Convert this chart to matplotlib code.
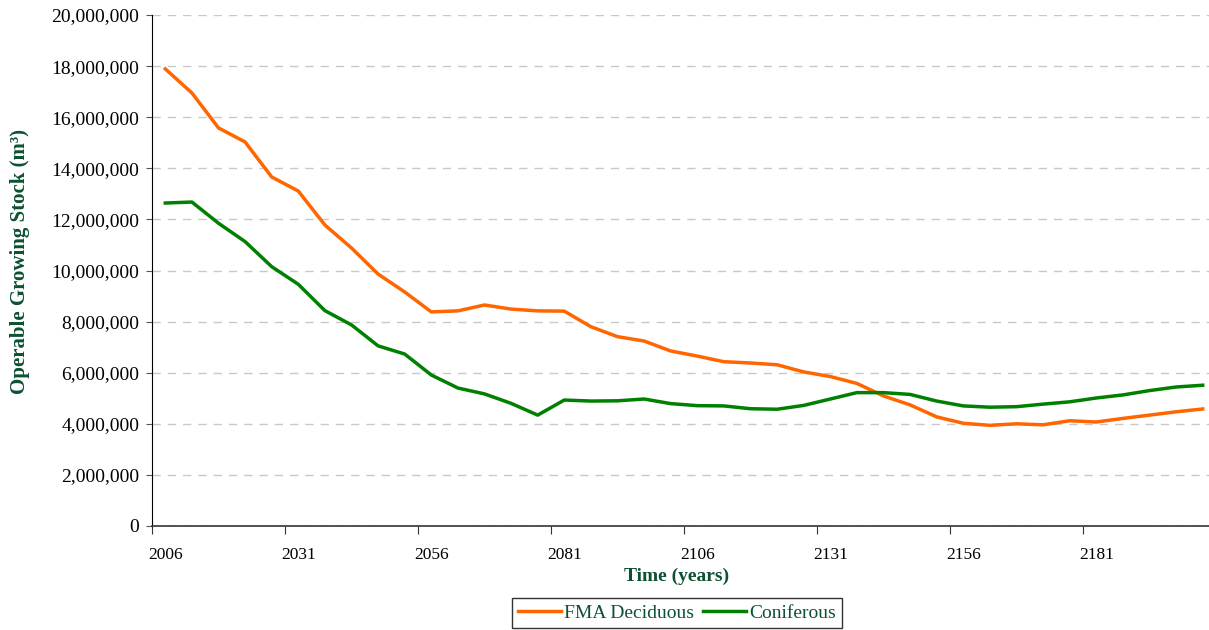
import matplotlib
matplotlib.use("Agg")
import matplotlib.pyplot as plt
from matplotlib.ticker import FuncFormatter, FixedLocator

years = list(range(2006, 2206, 5))
deciduous = [17.89, 16.95, 15.58, 15.03, 13.66, 13.11, 11.78, 10.88, 9.86, 9.16,
             8.38, 8.42, 8.65, 8.49, 8.42, 8.41, 7.80, 7.41, 7.24, 6.85,
             6.65, 6.43, 6.38, 6.31, 6.03, 5.85, 5.58, 5.09, 4.74, 4.27,
             4.02, 3.94, 4.00, 3.96, 4.12, 4.07, 4.21, 4.34, 4.47, 4.58]
coniferous = [12.64, 12.68, 11.85, 11.13, 10.15, 9.46, 8.43, 7.87, 7.05, 6.73,
              5.91, 5.40, 5.17, 4.80, 4.34, 4.93, 4.89, 4.90, 4.97, 4.79,
              4.71, 4.70, 4.59, 4.57, 4.72, 4.97, 5.22, 5.22, 5.15, 4.89,
              4.70, 4.65, 4.67, 4.77, 4.86, 5.01, 5.13, 5.30, 5.44, 5.51]
deciduous = [v * 1e6 for v in deciduous]
coniferous = [v * 1e6 for v in coniferous]
label_years = [2006, 2031, 2056, 2081, 2106, 2131, 2156, 2181]

plt.rcParams['font.family'] = ['Liberation Serif', 'DejaVu Serif']
green_txt = '#0b5132'

fig = plt.figure(figsize=(12.09, 6.3), dpi=100)
ax = fig.add_axes([152/1209, 104/630, 1064/1209, 511/630])

xpos = [i + 0.5 for i in range(len(years))]
l1, = ax.plot(xpos, deciduous, color='#ff6600', lw=2.5, solid_joinstyle='round', label='FMA Deciduous')
l2, = ax.plot(xpos, coniferous, color='#008000', lw=2.5, solid_joinstyle='round', label='Coniferous')

ax.set_xlim(0, len(years))
ax.set_ylim(0, 20e6)
ax.set_yticks([i * 2e6 for i in range(11)])
ax.yaxis.set_major_formatter(FuncFormatter(lambda v, p: f"{int(v):,}"))
ax.tick_params(axis='y', labelsize=14, length=4, direction='out', color='#555555', pad=5)

# x ticks at category boundaries, labels at category centers
ax.xaxis.set_major_locator(FixedLocator([years.index(y) for y in label_years] + [40]))
ax.xaxis.set_major_formatter(FuncFormatter(lambda v, p: ''))
ax.xaxis.set_minor_locator(FixedLocator([years.index(y) + 0.5 for y in label_years]))
ax.set_xticklabels([str(y) for y in label_years], minor=True)
ax.tick_params(axis='x', which='major', length=6, color='#333333')
ax.tick_params(axis='x', which='minor', length=0, labelsize=12.5, pad=15)

ax.grid(axis='y', linestyle=(0, (6, 5)), color='#c8c8c8', lw=1)
ax.set_axisbelow(True)
for s in ['top', 'right']:
    ax.spines[s].set_visible(False)
ax.spines['left'].set_color('black')
ax.spines['bottom'].set_color('#333333')
ax.spines['bottom'].set_linewidth(1.2)

ax.set_ylabel('Operable Growing Stock (m\u00b3)', fontsize=15, fontweight='bold',
              color=green_txt)
ax.yaxis.set_label_coords(-(152 - 30) / 1064, (630 - 261 - 104) / 511)
fig.text(677/1209, 1 - 576/630, 'Time (years)', ha='center', va='center',
         fontsize=14, fontweight='bold', color=green_txt)

leg = fig.legend(handles=[l1, l2], loc='center', bbox_to_anchor=(677/1209, 1 - 613/630),
                 ncol=2, frameon=True, fancybox=False, fontsize=14, handlelength=2.2,
                 handletextpad=0.15, columnspacing=0.5, borderpad=0.3, edgecolor='black')
leg.get_frame().set_linewidth(1.0)
for t in leg.get_texts():
    t.set_color(green_txt)

fig.savefig('out.png', dpi=100)
